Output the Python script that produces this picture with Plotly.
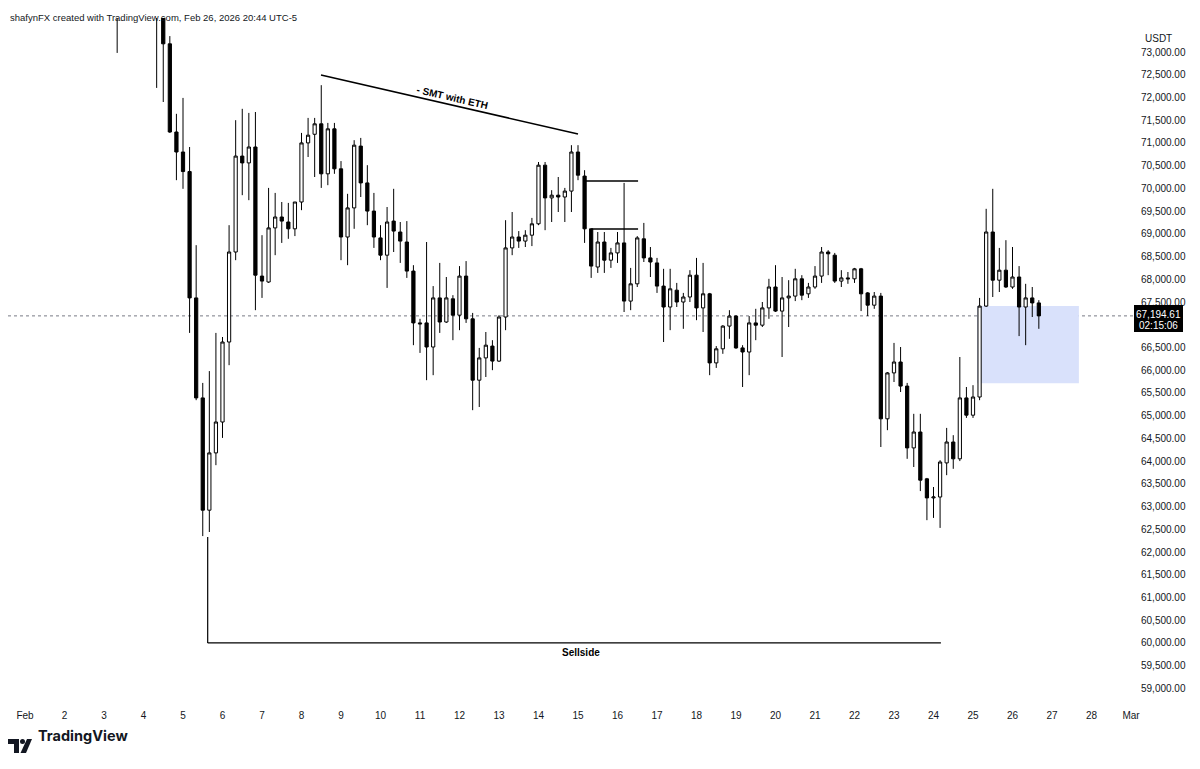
import plotly.graph_objects as go
import pandas as pd

# ---------------- data (4h candles, BTC/USDT) ----------------
early_times = ["2026-02-03 08:00", "2026-02-04 08:00"]   # bars mostly above the visible range
early_open = [74150, 73950]
early_high = [74400, 74300]
early_low = [72980, 72210]
early_close = [74000, 73850]

main_start = "2026-02-04 12:00"
opens = [
    73850, 73180, 71240,                                  # Feb 4 (12h-20h)
    70800, 70370, 67590, 65390, 62920, 64180,             # Feb 5
    64860, 66620, 68600, 70710, 70560, 70910,             # Feb 6
    68070, 67940, 69130, 69370, 69260, 69110,             # Feb 7
    69700, 71000, 71190, 71420, 70320, 71310,             # Feb 8
    70430, 68930, 69570, 70930, 70120, 69500,             # Feb 9
    68910, 68530, 69280, 69040, 68820, 68180,             # Feb 10
    67040, 67040, 66510, 67590, 67060, 67570,             # Feb 11
    67210, 68070, 67130, 65780, 66270, 66530,             # Feb 12
    66200, 67170, 68690, 68930, 68840, 68970,             # Feb 13
    69220, 70510, 69790, 69850, 69810, 69940,             # Feb 14
    70800, 70270, 69110, 68270, 68820, 68420,             # Feb 15
    68580, 68800, 67520, 67900, 68890, 68470,             # Feb 16
    68360, 67850, 67390, 67760, 67500, 67610,             # Feb 17
    68090, 67370, 67680, 66160, 66470, 66970,             # Feb 18
    67190, 66490, 66400, 67040, 66990, 67370,             # Feb 19
    67830, 67300, 67590, 67630, 68010, 67680,             # Feb 20
    67830, 68070, 68600, 68530, 67960, 68030,             # Feb 21
    68010, 68230, 67700, 67430, 67630, 64930,             # Feb 22
    65940, 66180, 65650, 64290, 64640, 63610,             # Feb 23
    63190, 63210, 63960, 64420, 64050, 65390,             # Feb 24
    65010, 65410, 67410, 69040, 67980, 68200,             # Feb 25
    67830, 68050, 67390, 67590, 67480,                    # Feb 26
]
highs = [
    74000, 73350, 71640,
    71990, 70910, 68750, 65720, 65980, 66820,
    66730, 69190, 71500, 71750, 71660, 71680,
    68970, 70010, 69900, 69700, 69680, 69700,
    71220, 71550, 71550, 72270, 71440, 71440,
    70600, 69880, 71060, 71110, 70510, 69900,
    69190, 69590, 69990, 69260, 69280, 68310,
    67130, 68820, 67850, 68360, 68050, 67650,
    68290, 68400, 67260, 66490, 66840, 66660,
    67210, 69300, 69480, 69060, 69080, 69350,
    70580, 70580, 69960, 70250, 70010, 70950,
    70950, 70400, 69110, 69040, 69040, 68690,
    69040, 70120, 68250, 68950, 69240, 68710,
    68470, 68230, 68230, 67920, 67700, 68200,
    68470, 68360, 67700, 66530, 66990, 67320,
    67210, 66550, 67190, 67350, 67500, 68010,
    68310, 68050, 67980, 68230, 68090, 67920,
    68290, 68710, 68640, 68580, 68200, 68160,
    68250, 68250, 67720, 67720, 67700, 65960,
    66600, 66510, 65720, 65040, 65040, 63630,
    63430, 64020, 64730, 64570, 66290, 65630,
    65670, 67590, 69550, 69990, 68690, 68860,
    68710, 68290, 67900, 67830, 67540,
]
lows = [
    71900, 71220, 70180,
    69990, 66820, 65340, 62350, 62440, 63910,
    64510, 66110, 68420, 69850, 69740, 67320,
    67590, 67920, 68530, 68800, 68890, 68950,
    69520, 70690, 70250, 70010, 70070, 70320,
    68420, 68310, 69110, 69810, 69190, 68690,
    68420, 67810, 68600, 68360, 68030, 66550,
    66380, 65780, 65890, 66820, 67040, 66660,
    66880, 67040, 65120, 65190, 65850, 66000,
    66180, 66880, 68530, 68690, 68710, 68730,
    69190, 69080, 69260, 69480, 69260, 69480,
    70180, 68800, 68030, 68140, 68140, 68250,
    68360, 67280, 67320, 67830, 68380, 68050,
    67700, 66620, 66880, 67390, 66910, 67500,
    67100, 66840, 65890, 66050, 66360, 66690,
    66470, 65630, 65890, 66660, 66950, 67130,
    67280, 66290, 66950, 67520, 67540, 67590,
    67790, 67920, 68090, 67920, 67830, 67900,
    67920, 67300, 67190, 67350, 64310, 64680,
    65740, 65520, 64050, 63870, 63340, 62700,
    62750, 62530, 63690, 63830, 64000, 64950,
    64950, 65340, 67390, 67610, 67720, 67810,
    67790, 66750, 66550, 67170, 66910,
]
closes = [
    73180, 71240, 70800,
    70370, 67590, 65390, 62920, 64180, 64860,
    66620, 68600, 70710, 70560, 70910, 68090,
    67960, 69130, 69370, 69280, 69110, 69700,
    71000, 71170, 71420, 70320, 71310, 70430,
    68930, 69570, 70950, 70120, 69500, 68930,
    68530, 69260, 69060, 68840, 68180, 67040,
    67020, 66510, 67590, 67060, 67590, 67210,
    68070, 67130, 65780, 66270, 66550, 66200,
    67170, 68690, 68930, 68840, 68970, 69220,
    70510, 69790, 69850, 69810, 69940, 70800,
    70290, 69110, 68290, 68820, 68420, 68580,
    68800, 67520, 67900, 68910, 68470, 68380,
    67850, 67390, 67790, 67500, 67610, 68090,
    67370, 67680, 66160, 66470, 66970, 67190,
    66490, 66400, 67040, 66990, 67370, 67830,
    67300, 67590, 67630, 68010, 67650, 67830,
    68070, 68600, 68560, 67960, 68030, 68010,
    68230, 67680, 67430, 67630, 64930, 65940,
    66180, 65650, 64290, 64640, 63580, 63190,
    63210, 63980, 64420, 64050, 65390, 65010,
    65410, 67410, 69040, 67980, 68200, 67830,
    68050, 67390, 67590, 67480, 67194.61,
]
last_price = 67194.61
countdown = "02:15:06"

day_ticks = ["Feb"] + [str(d) for d in range(2, 29)] + ["Mar"]
# 67,000 is hidden behind the last-price label on the axis
price_ticks = [p for p in range(59000, 73001, 500) if p != 67000]

# drawings
smt_line = [("2026-02-08 11:50", 72494), ("2026-02-15 00:00", 71196)]
smt_label = ("2026-02-11 19:30", 72010, "- SMT with ETH")
level_lines = [("2026-02-15 04:00", "2026-02-16 12:30", 70162),
               ("2026-02-15 08:00", "2026-02-16 12:30", 69106)]
sellside_x = ["2026-02-05 15:00", "2026-02-24 04:30"]
sellside_y = [62330, 60000]
sellside_label = ("2026-02-15 02:00", 59790, "Sellside")
zone = ("2026-02-25 02:30", "2026-02-27 16:20", 65715, 67412)

# ---------------- figure ----------------
# the page adds an 8px body margin; the figure is sized to compensate
OFF = 8
W, H = 1184, 753
PX0, PX1, PY0, PY1 = 8, 1133, 18, 700          # plot area in page pixels
L = PX0 - OFF
T = PY0 - OFF
R = W - (PX1 - OFF)
B = H - (PY1 - OFF)


def xp(px):
    return (px - PX0) / (PX1 - PX0)


def yp(py):
    return (PY1 - py) / (PY1 - PY0)


times = [pd.Timestamp(t) for t in early_times] + list(
    pd.date_range(main_start, periods=len(opens), freq="4h"))

fig = go.Figure(go.Candlestick(
    x=times,
    open=early_open + opens,
    high=early_high + highs,
    low=early_low + lows,
    close=early_close + closes,
    increasing=dict(line=dict(color="#000000", width=1), fillcolor="#ffffff"),
    decreasing=dict(line=dict(color="#000000", width=1), fillcolor="#000000"),
    whiskerwidth=0,
    showlegend=False,
    hoverinfo="skip",
))

tick_dates = list(pd.date_range("2026-02-01", "2026-03-01", freq="D"))

font_fam = "Liberation Sans, Arial, sans-serif"
fig.update_layout(
    width=W, height=H,
    margin=dict(l=L, r=R, t=T, b=B, pad=0, autoexpand=False),
    paper_bgcolor="white", plot_bgcolor="white",
    font=dict(family=font_fam, color="#131722", size=10),
    showlegend=False,
    xaxis=dict(
        range=["2026-01-31 13:40", "2026-03-01 01:13"],
        rangeslider=dict(visible=False),
        showgrid=False, zeroline=False, showline=False, automargin=False,
        tickmode="array", tickvals=tick_dates, ticktext=day_ticks,
        ticks="outside", ticklen=6, tickcolor="white",
        tickfont=dict(size=10, color="#131722"),
    ),
    yaxis=dict(
        side="right",
        range=[58744, 73748],
        showgrid=False, zeroline=False, showline=False, automargin=False,
        tickmode="array", tickvals=price_ticks, tickformat=",.2f",
        ticks="outside", ticklen=5, tickcolor="white",
        tickfont=dict(size=10, color="#131722"),
    ),
)

shapes = []
# liquidity zone
shapes.append(dict(type="rect", xref="x", yref="y", x0=zone[0], x1=zone[1],
                   y0=zone[2], y1=zone[3], fillcolor="#d9e1fb",
                   line=dict(width=0), layer="below"))
# last price dotted line
shapes.append(dict(type="line", xref="paper", yref="y", x0=0, x1=1,
                   y0=last_price, y1=last_price,
                   line=dict(color="#787b86", width=1, dash="dot"), layer="below"))
# SMT line
shapes.append(dict(type="line", xref="x", yref="y",
                   x0=smt_line[0][0], y0=smt_line[0][1],
                   x1=smt_line[1][0], y1=smt_line[1][1],
                   line=dict(color="#000000", width=1.5)))
for x0, x1, yv in level_lines:
    shapes.append(dict(type="line", xref="x", yref="y", x0=x0, x1=x1, y0=yv, y1=yv,
                       line=dict(color="#000000", width=1.5)))
# sellside
shapes.append(dict(type="line", xref="x", yref="y", x0=sellside_x[0], x1=sellside_x[0],
                   y0=sellside_y[0], y1=sellside_y[1],
                   line=dict(color="#000000", width=1.2)))
shapes.append(dict(type="line", xref="x", yref="y", x0=sellside_x[0], x1=sellside_x[1],
                   y0=sellside_y[1], y1=sellside_y[1],
                   line=dict(color="#000000", width=1.2)))
# price label box on axis
shapes.append(dict(type="rect", xref="paper", yref="paper",
                   x0=xp(1134), x1=xp(1183), y0=yp(332), y1=yp(305),
                   fillcolor="#000000", line=dict(width=0)))


# TradingView logo (footer)
def path(points):
    return "M " + " L ".join(f"{xp(a):.5f},{yp(b):.5f}" for a, b in points) + " Z"


shapes.append(dict(type="path", xref="paper", yref="paper",
                   path=path([(8, 739), (19, 739), (19, 753), (14, 753), (14, 744), (8, 744)]),
                   fillcolor="#131722", line=dict(width=0)))
shapes.append(dict(type="circle", xref="paper", yref="paper",
                   x0=xp(20), x1=xp(25), y0=yp(744), y1=yp(739),
                   fillcolor="#131722", line=dict(width=0)))
shapes.append(dict(type="path", xref="paper", yref="paper",
                   path=path([(27, 739), (32, 739), (26, 753), (20.5, 753)]),
                   fillcolor="#131722", line=dict(width=0)))
fig.update_layout(shapes=shapes)

ann = []
ann.append(dict(x=smt_label[0], y=smt_label[1], xref="x", yref="y",
                text="<b>" + smt_label[2] + "</b>", showarrow=False, textangle=13,
                font=dict(size=10, color="#000000")))
ann.append(dict(x=sellside_label[0], y=sellside_label[1], xref="x", yref="y",
                text="<b>" + sellside_label[2] + "</b>", showarrow=False,
                font=dict(size=10, color="#000000")))
ann.append(dict(x=xp(1158.5), y=yp(314.5), xref="paper", yref="paper",
                xanchor="center", yanchor="middle",
                text=f"{last_price:,.2f}", showarrow=False,
                font=dict(size=10, color="white")))
ann.append(dict(x=xp(1158.5), y=yp(325), xref="paper", yref="paper",
                xanchor="center", yanchor="middle",
                text=countdown, showarrow=False,
                font=dict(size=10, color="white")))
ann.append(dict(x=xp(1143), y=yp(31), xref="paper", yref="paper", xanchor="left",
                text="USDT", showarrow=False, font=dict(size=10, color="#131722")))
ann.append(dict(x=xp(8), y=yp(10), xref="paper", yref="paper", xanchor="left",
                text="shafynFX created with TradingView.com, Feb 26, 2026 20:44 UTC-5",
                showarrow=False, font=dict(size=9.5, color="#131722")))
ann.append(dict(x=xp(36), y=yp(746), xref="paper", yref="paper", xanchor="left",
                text="<b>TradingView</b>", showarrow=False,
                font=dict(size=14.5, color="#131722", family="Inter, Lato, sans-serif")))
fig.update_layout(annotations=ann)

fig.write_html("out.html")
